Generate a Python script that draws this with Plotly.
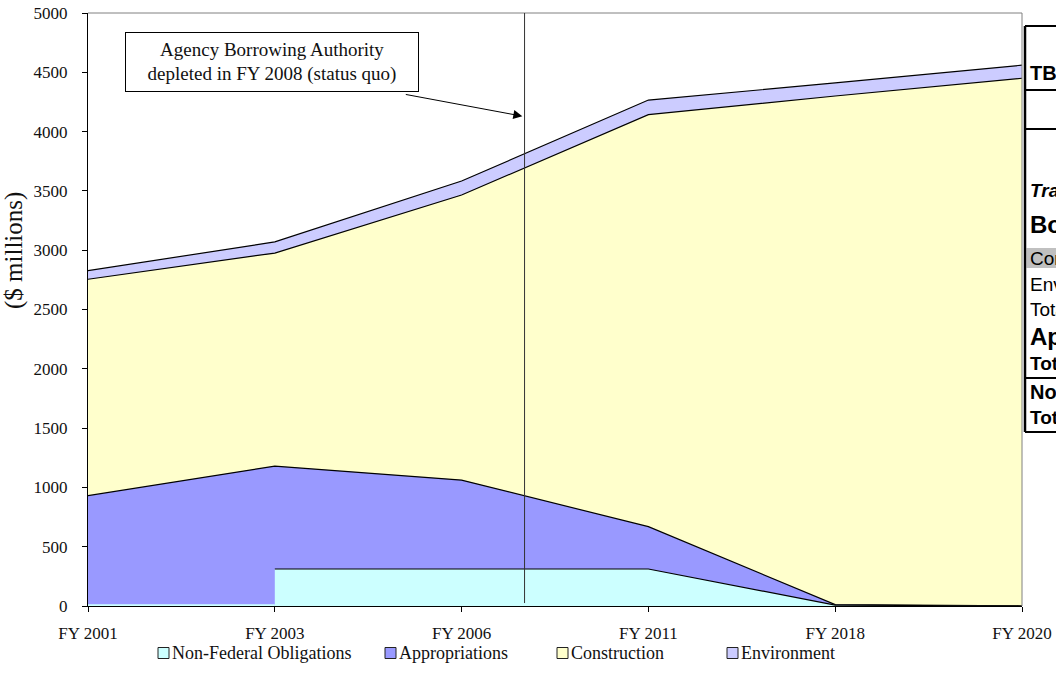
import plotly.graph_objects as go
import numpy as np

# Fiscal-year categories along the x axis
years = ["FY 2001", "FY 2003", "FY 2006", "FY 2011", "FY 2018", "FY 2020"]

# Funding by source, $ millions (stacked bottom to top)
non_federal = [15, 312, 312, 312, 8, 0]
appropriations = [915, 868, 750, 357, 4, 0]
construction = [1825, 1796, 2403, 3474, 4288, 4450]
environment = [72, 94, 118, 123, 110, 110]

series = [
    ("Non-Federal Obligations", non_federal, "#CCFFFF"),
    ("Appropriations", appropriations, "#9999FF"),
    ("Construction", construction, "#FFFFCC"),
    ("Environment", environment, "#CCCCFF"),
]

# Year when the agency borrowing authority runs out, placed between FY 2006 and FY 2011
depletion_pos = 2.337

SERIF = "Liberation Serif, Times New Roman, serif"
SANS = "Liberation Sans, Arial, sans-serif"

x_pos = np.arange(len(years))
tops = np.cumsum([np.array(v, dtype=float) for _, v, _ in series], axis=0)

fig = go.Figure()

# Paint the layers from the top down so each opaque fill covers the one above it
for i in range(len(series) - 1, -1, -1):
    name, _, color = series[i]
    if i == 0:
        # Non-federal money only starts in FY 2003: step up at that year
        fig.add_trace(go.Scatter(
            x=x_pos[:2], y=tops[i][:2], mode="lines", line_shape="hv",
            line=dict(color=color, width=0), fill="tozeroy", fillcolor=color,
            showlegend=False, hoverinfo="skip"))
        fig.add_trace(go.Scatter(
            x=x_pos[1:], y=tops[i][1:], mode="lines",
            line=dict(color="black", width=1.2), fill="tozeroy", fillcolor=color,
            showlegend=False, name=name))
    else:
        fig.add_trace(go.Scatter(
            x=x_pos, y=tops[i], mode="lines",
            line=dict(color="black", width=1.2), fill="tozeroy", fillcolor=color,
            showlegend=False, name=name))

W, H = 1056, 693
L, R, T, B = 88, 1022, 13, 606
pw, ph = R - L, B - T


def px(xp):
    return (xp - L) / pw


def py(yp):
    return (B - yp) / ph


shapes = []
annotations = []

# Plot frame: grey top and right edges
shapes.append(dict(type="line", xref="paper", yref="paper", x0=0, x1=1, y0=1, y1=1,
                   line=dict(color="#808080", width=1)))
shapes.append(dict(type="line", xref="paper", yref="paper", x0=1, x1=1, y0=0, y1=1,
                   line=dict(color="#808080", width=1)))

# Vertical marker for the depletion year
shapes.append(dict(type="line", xref="x", yref="y", x0=depletion_pos, x1=depletion_pos,
                   y0=25, y1=5000, line=dict(color="#333333", width=1)))

# Callout box with arrow pointing at the marker
annotations.append(dict(
    xref="paper", yref="paper", x=px(271.5), y=py(62.5), xanchor="center", yanchor="middle",
    text="Agency Borrowing Authority<br>depleted in FY 2008 (status quo)",
    showarrow=False, align="center", font=dict(family=SERIF, size=19, color="#111"),
    bordercolor="black", borderwidth=1, borderpad=3, bgcolor="white", width=286, height=52))
annotations.append(dict(
    xref="x", yref="y", x=depletion_pos - 0.012, y=4130, text="", showarrow=True,
    arrowhead=2, arrowsize=1.8, arrowwidth=1, arrowcolor="black",
    ax=-118, ay=-22))

# Y axis title
annotations.append(dict(
    xref="paper", yref="paper", x=px(14), y=py(251), text="($ millions)", textangle=-90,
    showarrow=False, font=dict(family=SERIF, size=25, color="#111"),
    xanchor="center", yanchor="middle"))

# Legend row beneath the axis
legend_items = [(series[0][0], series[0][2], 158), (series[1][0], series[1][2], 385),
                (series[2][0], series[2][2], 557), (series[3][0], series[3][2], 727)]
legend_y = 653
for name, color, lx in legend_items:
    shapes.append(dict(type="rect", xref="paper", yref="paper",
                       x0=px(lx), x1=px(lx + 11), y0=py(legend_y + 5.5), y1=py(legend_y - 5.5),
                       fillcolor=color, line=dict(color="#222", width=1)))
    annotations.append(dict(xref="paper", yref="paper", x=px(lx + 12), y=py(legend_y),
                            xanchor="left", yanchor="middle", text=name, showarrow=False,
                            font=dict(family=SERIF, size=18, color="#111")))

# Summary table at the right edge of the page
tx0 = 1025
shapes.append(dict(type="rect", xref="paper", yref="paper", x0=px(tx0 + 1.5), x1=px(1100),
                   y0=py(268), y1=py(248), fillcolor="#C0C0C0", line=dict(width=0)))
shapes.append(dict(type="line", xref="paper", yref="paper", x0=px(tx0), x1=px(tx0),
                   y0=py(26), y1=py(432), line=dict(color="black", width=2.5)))
for yl in [26, 90, 129, 378, 432]:
    shapes.append(dict(type="line", xref="paper", yref="paper", x0=px(tx0), x1=px(1100),
                       y0=py(yl), y1=py(yl), line=dict(color="black", width=2)))

table_rows = [
    ("<b>TBD</b>", 73, 20),
    ("<b><i>Transportation</i></b>", 190, 19),
    ("<b>Borrowing</b>", 225, 24),
    ("Construction", 258, 19),
    ("Environment", 284, 19),
    ("Total", 309, 19),
    ("<b>Appropriations</b>", 336, 24),
    ("<b>Total</b>", 363, 19),
    ("<b>Non-Federal</b>", 392, 20),
    ("<b>Total</b>", 417, 19),
]
for txt, yr, fs in table_rows:
    annotations.append(dict(xref="paper", yref="paper", x=px(1028), y=py(yr),
                            xanchor="left", yanchor="middle", text=txt, showarrow=False,
                            font=dict(family=SANS, size=fs, color="black")))

fig.update_layout(
    width=W, height=H,
    margin=dict(l=L, r=W - R, t=T, b=H - B, pad=0, autoexpand=False),
    paper_bgcolor="white", plot_bgcolor="white",
    showlegend=False,
    shapes=shapes, annotations=annotations,
    xaxis=dict(range=[0, len(years) - 1], tickmode="array", tickvals=x_pos, ticktext=years,
               showgrid=False, zeroline=False, showline=True, linecolor="black", linewidth=1,
               ticks="outside", ticklen=5, tickcolor="black", automargin=False,
               tickfont=dict(family=SERIF, size=17, color="#111"), ticklabelstandoff=7),
    yaxis=dict(range=[0, 5000], dtick=500, showgrid=False, zeroline=False,
               showline=True, linecolor="black", linewidth=1, automargin=False,
               ticks="outside", ticklen=5, tickcolor="black", ticklabelstandoff=11,
               tickfont=dict(family=SERIF, size=17, color="#111")),
)

fig.write_html("out.html")
